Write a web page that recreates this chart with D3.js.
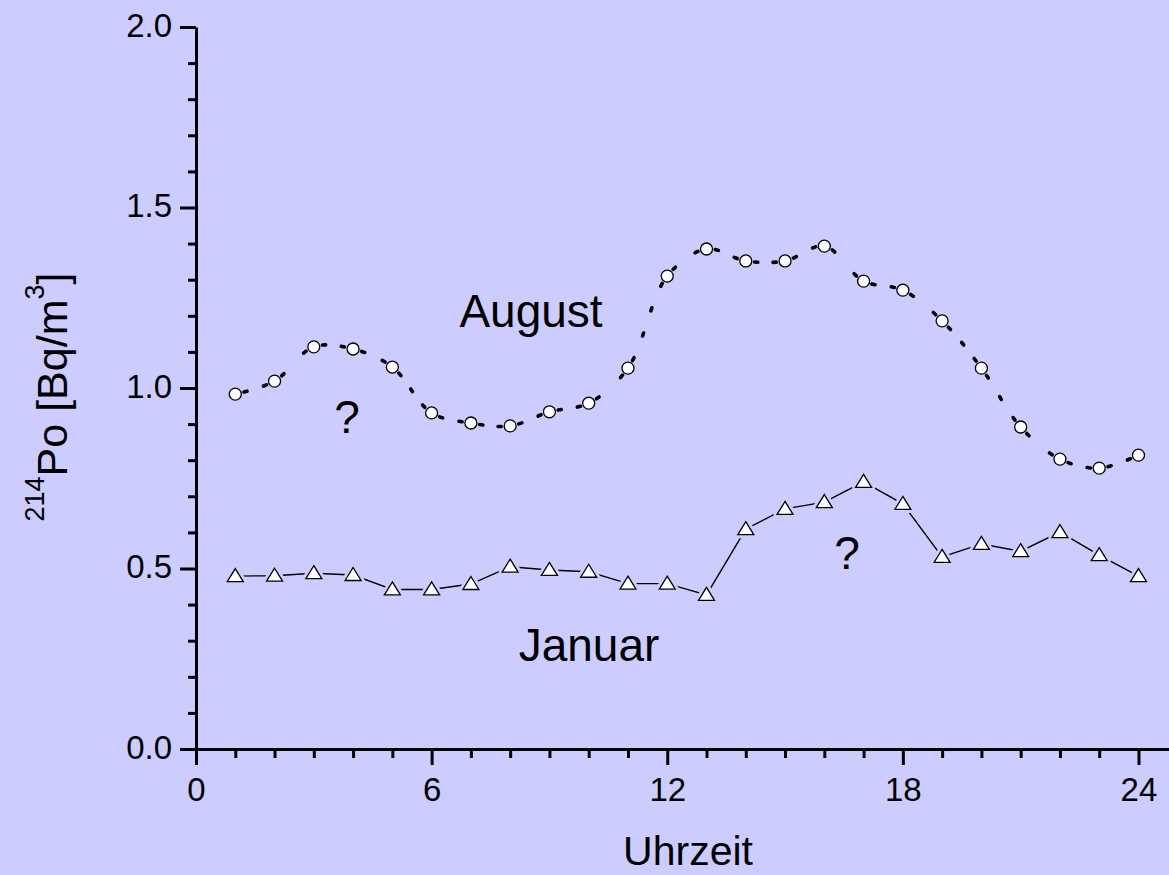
<!DOCTYPE html>
<html>
<head>
<meta charset="utf-8">
<script src="https://cdn.jsdelivr.net/npm/d3@7"></script>
<style>
  html, body { margin: 0; padding: 0; background: #CCCCFF; }
  svg { display: block; }
  text { font-family: "Liberation Sans", Arial, sans-serif; fill: #000; }
</style>
</head>
<body>
<svg id="chart" width="1169" height="875"></svg>
<script>
// ---- data ----
const hours = [1,2,3,4,5,6,7,8,9,10,11,12,13,14,15,16,17,18,19,20,21,22,23,24];
const august = [0.983,1.019,1.114,1.108,1.058,0.931,0.903,0.895,0.934,0.958,1.055,1.310,
                1.385,1.352,1.352,1.393,1.296,1.271,1.186,1.055,0.892,0.803,0.778,0.814];
const januar = [0.479,0.480,0.487,0.482,0.442,0.442,0.457,0.505,0.496,0.491,0.458,0.458,
                0.427,0.609,0.665,0.684,0.740,0.679,0.532,0.568,0.548,0.601,0.537,0.479];
const xMajorTicks = [0,6,12,18,24];
const xMinorTicks = [1,2,3,4,5,7,8,9,10,11,13,14,15,16,17,19,20,21,22,23];
const yMajorTicks = [0,0.5,1.0,1.5,2.0];
const yMinorTicks = [0.1,0.2,0.3,0.4,0.6,0.7,0.8,0.9,1.1,1.2,1.3,1.4,1.6,1.7,1.8,1.9];
const xTitle = "Uhrzeit";

// ---- layout ----
const BG = "#CCCCFF";
const svg = d3.select("#chart");
svg.append("rect").attr("width",1169).attr("height",875).attr("fill",BG);

const x = d3.scaleLinear().domain([0,25]).range([196, 196 + 25*39.27]);
const y = d3.scaleLinear().domain([0,2]).range([749, 27]);

const tickFont = 33;
const FF = '"Liberation Sans", Arial, sans-serif';

// X axis (minor)
svg.append("g").attr("transform","translate(0,749)")
  .call(d3.axisBottom(x).tickValues(xMinorTicks).tickSize(9).tickSizeOuter(0).tickFormat(""))
  .call(g => g.select(".domain").remove())
  .call(g => g.selectAll("line").attr("stroke","#000").attr("stroke-width",3));
// X axis (major)
svg.append("g").attr("transform","translate(0,749)")
  .call(d3.axisBottom(x).tickValues(xMajorTicks).tickSize(16).tickSizeOuter(0).tickFormat(d3.format("d")))
  .call(g => g.select(".domain").attr("stroke","#000").attr("stroke-width",3))
  .call(g => g.selectAll("line").attr("stroke","#000").attr("stroke-width",3))
  .call(g => g.selectAll("text").attr("dy",null).attr("y",52)
     .attr("font-size",tickFont).attr("font-family",FF).attr("fill","#000"));

// Y axis (minor)
svg.append("g").attr("transform","translate(196,0)")
  .call(d3.axisLeft(y).tickValues(yMinorTicks).tickSize(8).tickSizeOuter(0).tickFormat(""))
  .call(g => g.select(".domain").remove())
  .call(g => g.selectAll("line").attr("stroke","#000").attr("stroke-width",3));
// Y axis (major)
svg.append("g").attr("transform","translate(196,0)")
  .call(d3.axisLeft(y).tickValues(yMajorTicks).tickSize(16).tickSizeOuter(0).tickPadding(8).tickFormat(d3.format(".1f")))
  .call(g => g.select(".domain").attr("stroke","#000").attr("stroke-width",3))
  .call(g => g.selectAll("line").attr("stroke","#000").attr("stroke-width",3))
  .call(g => g.selectAll("text").attr("dy",null).attr("y",9)
     .attr("font-size",tickFont).attr("font-family",FF).attr("fill","#000"));

// Axis titles
svg.append("text").attr("x",688).attr("y",865).attr("text-anchor","middle")
  .attr("font-size",41).text(xTitle);

const yt = svg.append("text").attr("transform","translate(67,397) rotate(-90)")
  .attr("text-anchor","middle").attr("font-size",43);
yt.append("tspan").attr("font-size",27).attr("dy",-23).text("214");
yt.append("tspan").attr("dy",23).text("Po [Bq/m");
yt.append("tspan").attr("font-size",27).attr("dy",-23).text("3");
yt.append("tspan").attr("dy",23).text("]");

// ---- Januar series: thin solid line with triangles ----
const janData = hours.map((h,i)=>[h, januar[i]]);
const augData = hours.map((h,i)=>[h, august[i]]);

svg.append("path")
  .attr("d", d3.line().x(d=>x(d[0])).y(d=>y(d[1]))(janData))
  .attr("fill","none").attr("stroke","#000").attr("stroke-width",1.4);

const triType = {
  draw(ctx) {
    ctx.moveTo(0,-7.5); ctx.lineTo(8,5.5); ctx.lineTo(-8,5.5); ctx.closePath();
  }
};
const triPath = d3.symbol().type(triType)();
svg.append("g").selectAll("path").data(janData).join("path")
  .attr("d", triPath)
  .attr("transform", d=>`translate(${x(d[0])},${y(d[1])})`)
  .attr("fill",BG).attr("stroke",BG).attr("stroke-width",7).attr("stroke-linejoin","round");
svg.append("g").selectAll("path").data(janData).join("path")
  .attr("d", triPath)
  .attr("transform", d=>`translate(${x(d[0])},${y(d[1])})`)
  .attr("fill","#fff").attr("stroke","#000").attr("stroke-width",1.3);

// ---- August series: dotted spline with circles ----
const augLine = d3.line().x(d=>x(d[0])).y(d=>y(d[1])).curve(d3.curveCatmullRom.alpha(0.5));
const guide = svg.append("path").attr("d", augLine(augData)).attr("fill","none").attr("stroke","none");
const gNode = guide.node();
const total = gNode.getTotalLength();
function lenAtX(px){
  let lo=0, hi=total;
  for (let k=0;k<50;k++){ const m=(lo+hi)/2; if (gNode.getPointAtLength(m).x < px) lo=m; else hi=m; }
  return (lo+hi)/2;
}
const Ls = augData.map(d => lenAtX(x(d[0])));
const dashes = [];
const gap = 10.5, spacing = 25, half = 1.6;
for (let i=0;i<Ls.length-1;i++){
  const a = Ls[i]+gap, b = Ls[i+1]-gap, seg = b-a;
  if (seg < 0) continue;
  const n = Math.max(2, Math.round(seg/spacing)+1);
  for (let k=0;k<n;k++){
    const t = a + seg*k/(n-1);
    const p0 = gNode.getPointAtLength(Math.max(0,t-half));
    const p1 = gNode.getPointAtLength(Math.min(total,t+half));
    dashes.push([p0,p1]);
  }
}
svg.append("g").selectAll("line").data(dashes).join("line")
  .attr("x1",d=>d[0].x).attr("y1",d=>d[0].y).attr("x2",d=>d[1].x).attr("y2",d=>d[1].y)
  .attr("stroke","#000").attr("stroke-width",3.6).attr("stroke-linecap","round");

svg.append("g").selectAll("circle").data(augData).join("circle")
  .attr("cx",d=>x(d[0])).attr("cy",d=>y(d[1])).attr("r",6)
  .attr("fill","#fff").attr("stroke","#000").attr("stroke-width",1.3);

// ---- annotations ----
svg.append("text").attr("x",531).attr("y",327).attr("text-anchor","middle").attr("font-size",46).text("August");
svg.append("text").attr("x",589).attr("y",661).attr("text-anchor","middle").attr("font-size",46).text("Januar");
svg.append("text").attr("x",347).attr("y",433).attr("text-anchor","middle").attr("font-size",46).text("?");
svg.append("text").attr("x",847).attr("y",569).attr("text-anchor","middle").attr("font-size",46).text("?");
</script>
</body>
</html>
